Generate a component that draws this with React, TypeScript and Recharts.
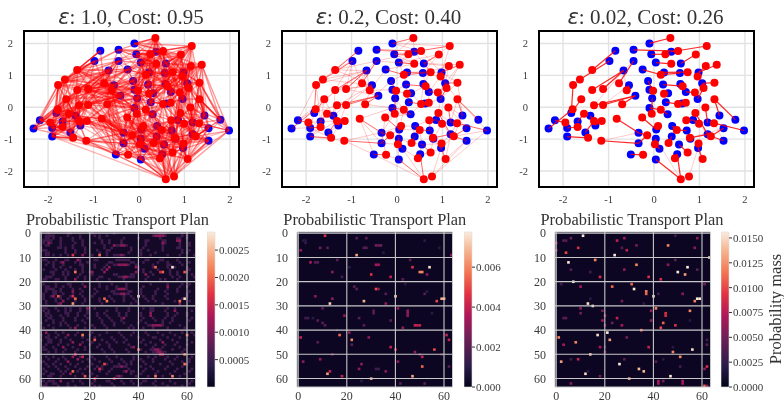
import React from "react";
import {
  CartesianGrid,
  ReferenceArea,
  ReferenceLine,
  Scatter,
  ScatterChart,
  XAxis,
  YAxis,
} from "recharts";

const SERIF = "'Liberation Serif', 'Times New Roman', serif";
const INK = "#3a3a3a";

// source (blue) and target (red) samples
const blueX = [-0.1,-0.85,-0.45,-0.06,0.38,-0.98,-0.45,0.04,0.59,-0.67,-0.25,0.22,0.57,0.98,-0.13,0.2,0.58,1.06,-0.55,-0.1,0.31,0.7,-0.41,-0.04,0.26,0.96,-0.1,0.3,-1.82,-1.4,-2.18,-1.68,-1.29,-1.91,-2.32,-1.51,-1.91,-0.34,0.05,0.4,0.72,0.86,1.18,1.44,1.79,1.53,1.98,1.18,0.8,0.39,0.04,-0.34,0.12,0.55,0.97,1.53,-0.51,0.51,0.04,0.62];
const blueY = [2,1.77,1.8,1.66,1.74,1.45,1.45,1.4,1.37,1.15,1.18,1.09,1.07,1.09,0.82,0.71,0.73,0.75,0.69,0.55,0.44,0.48,0.36,0.28,0.16,0.26,-0.02,-0.22,-0.18,-0.27,-0.41,-0.45,-0.57,-0.65,-0.67,-0.79,-0.92,-0.8,-0.7,-0.59,-0.73,-0.4,-0.48,-0.26,-0.39,-0.66,-0.73,-0.85,-0.99,-0.92,-0.99,-1.13,-1.3,-1.17,-1.28,-1.05,-1.48,-1.47,-1.64,0.12];
const redX = [0.36,1.16,0.25,0.53,0.92,0.38,1.38,1.14,-1.36,-1.63,-1.78,0.15,0.74,0.96,1.33,-0.77,0.63,1.09,-1.36,-1.12,-0.6,-0.02,0.22,0.9,-1.6,1.33,-1.32,-1.12,-0.7,0.53,0.7,-1.79,0.15,1.13,-0.05,-1.54,0.91,-0.82,-0.26,-1.32,-1.15,-1.95,0.71,0.99,1.32,-1.68,0.09,0.5,-0.15,0.79,1.25,-1.45,-1.16,0.02,0.32,0.98,-0.24,0.74,0.46,1.07,0.59,0.77];
const redY = [2.17,1.92,1.66,1.76,1.65,1.36,1.33,1.29,1.17,0.87,0.7,1.02,1.1,0.96,0.77,0.75,0.66,0.6,0.54,0.57,0.53,0.52,0.42,0.46,0.25,0.25,0.06,0.07,0.09,0.1,0.14,-0.06,-0.08,-0.01,-0.2,-0.2,-0.18,-0.36,-0.32,-0.43,-0.43,-0.48,-0.41,-0.52,-0.5,-0.62,-0.59,-0.71,-0.88,-0.96,-0.91,-0.96,-1.05,-1.16,-1.12,-1.14,-1.49,-1.42,-1.6,-1.62,-2.26,-2.17];

// [red, blue] pairs of the sharp matching
const matchLinks = [[0,0],[1,4],[2,3],[3,2],[4,8],[5,7],[8,1],[9,5],[10,28],[31,34],[41,30],[45,33],[51,36],[39,35],[35,31],[39,29],[40,32],[15,6],[18,9],[20,18],[11,10],[12,11],[11,12],[7,13],[6,13],[14,17],[16,16],[16,15],[23,21],[17,25],[22,20],[21,19],[21,14],[27,22],[26,22],[34,23],[32,26],[32,27],[29,24],[30,59],[25,43],[33,42],[28,22],[36,47],[37,37],[38,38],[42,41],[43,41],[25,44],[24,28],[44,46],[50,45],[50,55],[49,47],[47,40],[47,39],[54,49],[49,48],[55,54],[57,53],[53,50],[53,52],[60,57],[60,58],[58,57],[59,54],[56,56],[52,51],[48,37],[48,51],[46,38],[19,9]];
const tailLinks3 = [[19,6],[26,9],[27,18],[61,54],[52,37],[60,50],[43,47],[49,45],[44,55],[20,9]];

// red -> blues, the weak part of each plan
const fan2 = [[0,[3,4]],[1,[0,8,13]],[2,[2,6,7]],[3,[0,7,13]],[4,[7,12]],[5,[3,6,10,11]],[6,[8,17,25]],[7,[8,12,17]],[8,[5,6,9,18]],[9,[1,9,18]],[10,[9,30,31]],[11,[7,14,15]],[12,[4,8,13,16]],[13,[12,17,21]],[14,[13,25,43]],[15,[5,9,18,22]],[16,[12,20]],[17,[13,21]],[18,[5,18,28,29]],[19,[5,6,18,22]],[20,[9,10,19,22]],[21,[15,23]],[22,[15,19,24]],[23,[16,17]],[24,[9,29,30,31]],[25,[17,42,46]],[26,[18,28,29]],[27,[9,18,29,32]],[28,[14,18,26]],[29,[16,20,27]],[30,[21,25]],[31,[28,30,33]],[32,[23,24,38]],[33,[25,43,45]],[34,[26,27,37]],[35,[29,33,36]],[36,[25,41,42]],[37,[26,51,56]],[38,[26,27,51]],[39,[31,32,36]],[40,[29,35]],[41,[31,33,36]],[42,[39,40,48]],[43,[42,47,48]],[44,[42,43,45,47]],[45,[31,34,36]],[46,[37,39,50]],[47,[38,49,53]],[48,[38,50,51]],[49,[40,54]],[50,[43,46,54]],[51,[33,35,32]],[52,[36,37,56]],[53,[38,51,58]],[54,[39,50,53]],[55,[47,48,53]],[56,[37,58]],[57,[48,54,57]],[58,[52,53]],[59,[47,55]],[60,[52,56]],[61,[54,55,46]]];
const fan1 = [[0,[0,2,3,4,7,8,11,12,13,15,16,20]],[1,[0,4,7,8,12,13,17,16,21,25,43]],[2,[0,2,3,6,7,10,11,14,15,18,19,23]],[3,[0,3,4,7,8,11,12,13,16,17,21]],[4,[0,4,7,8,12,13,16,17,21,25,41]],[5,[2,3,6,7,10,11,12,14,15,19,20,24]],[6,[4,8,13,17,25,43,44,46,21,42,12]],[7,[4,8,12,13,16,17,21,25,42,43]],[8,[1,2,5,6,9,18,22,10,28,29]],[9,[1,5,6,9,18,22,28,29,30,31]],[10,[5,9,18,22,28,29,30,31,34,33]],[11,[3,7,10,11,12,14,15,16,19,20,23,24]],[12,[4,8,11,12,13,15,16,17,20,21,25,24]],[13,[8,12,13,16,17,20,21,25,41,42,43]],[14,[8,13,17,21,25,42,43,44,45,46]],[15,[1,2,5,6,9,10,18,19,22,23,26,29]],[16,[7,11,12,13,15,16,17,20,21,24,25,41]],[17,[12,13,16,17,21,25,41,42,43,44]],[18,[5,6,9,18,22,28,29,31,32,30]],[19,[5,6,9,10,18,22,26,29,32,37]],[20,[6,9,10,14,18,19,22,23,26,37,51]],[21,[7,10,11,14,15,19,20,23,24,26,27,38]],[22,[7,11,14,15,16,19,20,23,24,26,27,39]],[23,[12,13,16,17,21,25,41,42,59,40]],[24,[9,18,22,28,29,30,31,32,33,34]],[25,[13,17,25,41,42,43,44,45,46,47]],[26,[9,18,22,28,29,30,31,32,33,35,36]],[27,[9,18,22,26,28,29,31,32,35,37]],[28,[9,14,18,19,22,23,26,32,37,51,56]],[29,[15,16,20,21,24,25,27,39,41,59,40]],[30,[16,17,21,24,25,27,40,41,42,59]],[31,[28,29,30,31,33,34,35,36,32]],[32,[19,20,23,24,26,27,38,39,40,49,59]],[33,[17,25,41,42,43,44,45,47,46]],[34,[19,22,23,26,27,37,38,50,51,39]],[35,[28,29,30,31,32,33,35,36,34]],[36,[21,25,40,41,42,43,47,48,54,45]],[37,[22,26,29,32,37,38,50,51,56,52]],[38,[22,23,26,27,37,38,50,51,52,56]],[39,[28,29,31,32,33,35,36,37,30]],[40,[29,31,32,35,36,37,51,56]],[41,[30,31,33,34,35,36,28]],[42,[27,39,40,41,42,48,49,53,54,47]],[43,[40,41,42,43,45,47,48,54,55]],[44,[41,42,43,44,45,46,47,55,48]],[45,[30,31,33,34,35,36,29]],[46,[27,37,38,39,40,49,50,52,53,51]],[47,[27,38,39,40,41,48,49,53,54,57]],[48,[37,38,49,50,51,52,53,56,58]],[49,[39,40,41,47,48,49,53,54,55,57]],[50,[41,42,43,45,47,48,54,55,46,44]],[51,[31,32,33,34,35,36,29,56]],[52,[32,35,36,37,51,56,58,33]],[53,[37,38,49,50,51,52,53,56,57,58]],[54,[38,39,49,50,52,53,57,58,48]],[55,[40,47,48,49,53,54,55,57,45]],[56,[37,50,51,52,56,58,57]],[57,[48,49,52,53,54,57,58,55]],[58,[49,50,52,53,54,57,58,56]],[59,[47,48,53,54,55,57,45,46]],[60,[50,52,53,54,56,57,58,48,49,51,55]],[61,[48,49,52,53,54,55,57,58,46,47,40]]];
const fan1Far = [[0,[6,10,14,19,21,24,25]],[1,[3,11,15,20,24,42]],[2,[5,9,22,26,12,16]],[3,[2,10,14,15,19,20,25]],[4,[3,11,15,20,24,42]],[5,[2,9,18,22,16,21]],[6,[16,20,24,41,45,47]],[7,[11,15,20,24,41,44]],[8,[14,19,23,26,32,37,31,51]],[9,[2,10,14,19,26,32,35,36]],[10,[1,6,10,19,26,32,35,36,37]],[11,[2,6,9,18,22,26,27,41]],[12,[3,7,14,19,23,27,41,42]],[13,[7,11,15,24,27,40,47]],[15,[14,15,27,28,31,37,51,56]],[16,[3,14,19,23,27,40,42,47]],[18,[10,14,19,26,33,35,36,37,51]],[19,[14,15,23,28,31,35,36,51,56]],[20,[15,24,27,32,29,38,50,52,56]],[21,[2,6,9,18,22,37,39,50,12]],[23,[8,11,15,20,24,27,47,48,54]],[24,[6,10,14,19,26,35,36,37]],[26,[10,14,19,23,37,51,56]],[27,[14,19,23,38,51,52,56,36]],[28,[10,15,20,24,27,38,50,52,58]],[29,[11,19,23,38,47,48,49,53,54]],[32,[14,15,37,41,48,50,52,53,54]],[34,[14,15,24,49,51,52,53,56,58]],[37,[19,23,27,39,49,50,53,58,28,29]],[38,[15,19,24,39,49,53,57,58]],[40,[22,26,37,38,50,52,58,33]],[42,[24,38,43,45,50,52,55,57]],[46,[23,24,26,41,48,53,54,57,58,56]],[47,[24,42,43,50,52,55,58,37]],[48,[26,27,29,32,39,57,54]],[49,[24,27,38,42,43,45,50,52,58]],[52,[26,29,31,38,50,52]],[53,[26,27,39,40,48,54]],[54,[27,37,40,41,51,54,55]],[56,[26,32,36,38,39,53]],[57,[38,39,40,41,42,47,50,52]],[60,[37,38,39,40,41,36,35,47]],[61,[38,39,41,42,43,45,50]],[59,[40,41,42,43,44,49,52]],[58,[37,38,39,40,48,51]],[55,[38,39,41,42,43,44,46]]];

// transport plan cells: [col, row, mass]
const plan3 = [[11,1,.0156],[3,3,.004],[4,3,.004],[6,2,.005],[25,3,.008],[28,2,.007],[58,2,.006],[0,4,.007],[49,1,.003],[46,5,.012],[33,5,.005],[9,6,.009],[27,6,.004],[29,7,.008],[57,6,.006],[4,8,.01],[0,7,.006],[24,9,.0155],[63,10,.0145],[16,11,.012],[5,12,.0155],[49,11,.004],[33,13,.012],[46,13,.006],[54,14,.0156],[6,15,.004],[28,15,.006],[50,16,.0156],[53,17,.013],[14,16,.003],[18,18,.009],[38,18,.009],[43,19,.009],[58,15,.004],[7,20,.0156],[2,21,.003],[31,21,.011],[61,21,.005],[10,22,.007],[23,22,.011],[32,23,.0155],[37,24,.012],[37,25,.011],[40,26,.015],[52,25,.006],[42,25,.003],[59,27,.0156],[58,27,.0156],[57,28,.012],[27,28,.005],[13,29,.0152],[15,30,.015],[36,29,.002],[14,27,.002],[10,31,.006],[41,31,.012],[19,32,.005],[39,32,.006],[55,32,.012],[10,33,.005],[45,33,.009],[45,34,.009],[3,35,.004],[4,35,.004],[20,34,.006],[25,35,.008],[19,36,.007],[39,36,.006],[23,37,.005],[44,37,.011],[55,36,.002],[27,38,.007],[49,38,.009],[20,38,.005],[43,39,.01],[35,40,.011],[21,41,.0156],[17,42,.015],[1,43,.012],[22,44,.013],[8,45,.012],[29,43,.005],[3,46,.007],[18,47,.007],[38,47,.008],[56,48,.015],[20,49,.005],[48,49,.012],[14,50,.014],[51,51,.012],[41,53,.004],[44,52,.002],[9,52,.008],[2,53,.013],[6,52,.003],[28,52,.004],[26,54,.0155],[34,56,.014],[36,57,.014],[62,55,.009],[61,56,.006],[51,55,.003],[12,58,.015],[47,59,.0155],[18,59,.005],[30,60,.013],[6,62,.006],[42,61,.007],[42,62,.007],[44,61,.005],[52,61,.007],[52,62,.007],[61,63,.011],[62,63,.006],[13,57,.002],[48,47,.002],[20,47,.003],[62,44,.003],[62,46,.004]];
const plan2 = [[11,1,.0045],[2,3,.001],[3,3,.001],[3,4,.0012],[24,2,.002],[28,2,.002],[9,6,.0025],[12,6,.002],[1,7,.003],[24,9,.0065],[27,6,.002],[28,6,.002],[32,5,.0025],[33,5,.0025],[34,5,.0025],[52,3,.001],[63,9,.003],[5,12,.0035],[7,12,.002],[8,12,.002],[16,11,.002],[32,13,.0035],[33,13,.0035],[46,11,.002],[47,14,.0045],[54,14,.0075],[50,16,.006],[51,16,.006],[14,16,.003],[30,17,.0045],[53,17,.003],[38,18,.004],[18,18,.0015],[43,19,.002],[23,22,.002],[24,23,.002],[32,23,.005],[33,23,.003],[36,25,.002],[40,26,.0072],[52,25,.002],[53,24,.001],[27,28,.0068],[57,28,.005],[59,27,.0068],[60,27,.0068],[13,29,.0072],[14,27,.003],[36,29,.003],[7,26,.003],[41,31,.003],[45,32,.003],[45,33,.003],[45,34,.003],[31,32,.002],[31,33,.002],[10,31,.002],[19,34,.003],[25,35,.002],[3,35,.0015],[4,35,.0015],[8,36,.002],[10,37,.002],[11,38,.002],[48,38,.004],[49,38,.004],[50,38,.004],[43,39,.003],[38,36,.002],[27,38,.002],[17,42,.0055],[21,41,.003],[22,44,.006],[1,43,.004],[22,46,.002],[29,43,.003],[8,45,.002],[38,47,.004],[40,48,.004],[56,48,.005],[61,42,.004],[62,44,.004],[48,49,.003],[50,50,.002],[51,51,.004],[59,50,.002],[2,53,.003],[9,52,.003],[14,50,.002],[25,56,.003],[26,54,.003],[32,56,.0015],[33,56,.0015],[36,57,.003],[51,55,.0055],[12,58,.0065],[13,57,.004],[18,59,.004],[47,59,.0065],[30,60,.0065],[41,53,.003],[42,62,.002],[52,62,.002],[62,55,.002],[6,35,.001],[35,8,.001],[21,14,.001],[44,21,.001],[16,40,.001],[55,33,.001],[58,6,.001],[26,61,.001]];
const plan1Bright = [[13,9,.0017],[24,9,.002],[47,14,.002],[54,14,.0028],[50,16,.002],[49,16,.0016],[14,16,.0021],[59,16,.0019],[40,26,.0028],[7,26,.0019],[13,26,.0016],[14,27,.002],[26,27,.002],[27,28,.0021],[13,29,.0023],[57,28,.0021],[59,27,.0027],[17,42,.0021],[60,42,.002],[22,44,.0019],[40,48,.002],[59,50,.0021],[14,50,.0016],[17,51,.0015],[59,54,.0021],[26,54,.0018],[24,56,.0016],[13,57,.002],[47,59,.0021],[54,59,.0022],[18,59,.0019],[22,60,.0015],[30,60,.0015],[49,50,.0014],[50,50,.0014]];
const plan1Mid = [[1,[47,48,49,50]],[5,[30,33,34]],[13,[32,33,34,35]],[18,[34,35]],[15,[27]],[14,[28,39]],[16,[21,26,39]],[23,[32,33,34]],[25,[33,34]],[38,[46,47,48,49]],[48,[47,48]],[49,[48,49]],[26,[5]],[28,[9]],[4,[3,50]],[9,[17,33]],[12,[9]],[19,[14]],[22,[18,52]],[24,[13]],[29,[8,57]],[35,[34]],[39,[14]],[42,[11]],[45,[13,50]],[47,[9,38]],[53,[11]],[55,[33]],[58,[12]],[61,[8]],[3,[56,57]],[17,[43]],[11,[15]],[33,[45]],[34,[45]],[52,[15]],[57,[35]],[59,[32]],[32,[55]],[31,[19]],[41,[2]],[46,[16]],[51,[13]]];
const plan1Dim = [[0,[3,11,12,21,30,49,50,51,58]],[1,[2,3,4,5,11,16,22,24,27,46,51,58,60]],[2,[2,3,5,8,13,16,24,34,40,49,56,57,60]],[3,[1,2,3,4,8,13,17,25,28,33,43,44,50,51]],[4,[1,4,8,14,17,22,25,28,33,43,51,57,61]],[5,[2,3,8,13,17,26,31,32,35,43,50,57,61]],[6,[0,7,8,10,13,18,26,29,37,42,50,56,57]],[7,[0,1,2,10,14,18,23,27,28,37,41,44,50,58,61]],[8,[2,3,10,14,18,24,27,36,41,47,58,60]],[9,[2,3,5,8,11,21,27,30,31,32,34,41,45,52,57,63]],[11,[1,2,6,10,11,16,22,23,31,32,33,34,35,36,43,44,49,50,56]],[12,[3,5,8,14,16,19,28,29,37,38,42,48,52,57,61]],[13,[2,5,9,16,17,22,27,30,31,36,39,46,52,53,58]],[14,[5,8,12,17,22,26,40,46,52,55,60]],[15,[1,6,10,14,17,25,40,42,48,53,60,61]],[16,[4,5,9,11,17,20,42,45,53,56,60]],[17,[5,9,11,16,21,30,31,37,38,46,53,56,62]],[18,[2,3,4,10,15,18,24,25,32,33,36,37,38,44,54,57,63]],[19,[1,2,6,7,10,18,23,28,34,43,49,51,56]],[21,[1,6,11,12,17,24,29,35,45,52,58,61]],[22,[2,3,6,9,12,24,27,31,35,42,57,60]],[23,[2,3,4,5,8,13,16,22,27,31,35,41,48,52,56]],[24,[2,5,6,8,17,23,29,30,36,37,41,47,51,56,61]],[25,[1,5,6,9,13,16,22,30,31,32,35,36,41,47,52,60]],[26,[1,4,8,12,17,21,28,34,37,42,46,51,60]],[27,[1,6,8,11,18,24,29,34,38,43,46,52,58]],[28,[2,6,14,18,24,30,34,39,44,47,55,61]],[29,[2,7,17,25,37,40,50]],[31,[1,2,6,10,12,16,22,31,36,42,45,46,52,55]],[32,[1,3,7,10,12,16,19,27,31,36,45,46,51,62]],[33,[2,3,10,11,15,19,23,26,32,35,41,52,56,60]],[34,[2,4,8,11,15,18,23,27,32,35,41,52,55,60]],[35,[3,4,9,14,19,24,28,33,42,46,51,54,62]],[36,[2,5,9,14,17,25,29,33,41,47,50,54,61]],[37,[0,5,8,10,18,25,30,34,40,43,50,53]],[38,[3,8,11,15,21,26,30,37,44,45,50,57]],[39,[1,5,12,18,22,27,36,38,42,46,52,59]],[41,[6,9,15,21,27,32,38,43,48,53,58,62]],[42,[0,3,7,14,20,24,33,37,44,50,55,63]],[43,[2,3,6,10,17,22,29,34,40,46,47,52,57]],[44,[0,3,4,8,12,19,25,30,35,42,49,54,60]],[45,[3,4,8,17,21,27,31,34,41,45,56,62]],[46,[2,7,11,20,24,28,36,43,47,51,55,60]],[47,[1,5,13,18,23,28,37,46,50,57]],[48,[1,2,6,10,15,18,25,29,35,41,45,46,49,54,59]],[49,[3,6,9,14,20,26,30,36,43,46,47,50,51,58]],[51,[2,5,9,16,21,27,31,38,44,47,52,56,62]],[52,[3,7,10,19,22,28,33,38,41,46,51,55,61]],[53,[0,1,6,17,20,24,29,34,37,42,46,53,58,61]],[54,[2,5,8,12,15,21,27,32,35,37,43,49,54,60]],[55,[3,6,10,14,19,23,25,30,31,32,34,35,41,45,52,58]],[56,[1,7,11,16,18,22,25,29,36,43,46,51,56,62]],[57,[2,8,10,15,20,24,28,34,37,38,42,48,55,61]],[58,[1,4,5,9,17,21,27,37,41,47,53,59]],[59,[3,4,8,14,20,23,31,33,39,44,50,57]],[61,[0,1,3,4,5,13,16,22,27,28,33,37,42,43,47,53,60,62]],[62,[2,5,6,11,17,21,29,34,38,41,46,50,55,61]],[63,[1,2,7,11,14,22,24,30,40,47,52,58]]];

const xTicks = [-2, -1, 0, 1, 2];
const yTicks = [-2, -1, 0, 1, 2];
const heatXTicks = [0, 20, 40, 60];
const heatYTicks = [0, 10, 20, 30, 40, 50, 60];
const barTicks1 = [0.0005, 0.001, 0.0015, 0.002, 0.0025];
const barTicks2 = [0, 0.002, 0.004, 0.006];
const barTicks3 = [0, 0.0025, 0.005, 0.0075, 0.01, 0.0125, 0.015];

const rocketStops = ["#03051a", "#2b1c4a", "#701f57", "#ae1759", "#e13342", "#f37651", "#f6b48f", "#faebdd"];
const rocketAt = [0, 0.14, 0.32, 0.46, 0.6, 0.74, 0.88, 1];

function rocket(t: number) {
  const v = Math.min(1, Math.max(0, t));
  let i = 0;
  while (i < rocketAt.length - 2 && v > rocketAt[i + 1]) i++;
  const f = (v - rocketAt[i]) / (rocketAt[i + 1] - rocketAt[i]);
  const ch = (s: string, p: number) => parseInt(s.slice(p, p + 2), 16);
  const mix = (p: number) => Math.round(ch(rocketStops[i], p) * (1 - f) + ch(rocketStops[i + 1], p) * f);
  return `rgb(${mix(1)},${mix(3)},${mix(5)})`;
}

const toCells = (rows: any[], v: number) =>
  rows.flatMap(([row, cols]) => cols.map((col: number) => [col, row, v]));
const plan1 = [...toCells(plan1Dim, 0.00055), ...toCells(plan1Mid, 0.0011), ...plan1Bright];

const bluePoints = blueX.map((x, i) => ({ x, y: blueY[i] }));
const redPoints = redX.map((x, i) => ({ x, y: redY[i] }));
const unfan = (rows: any[]) => rows.flatMap(([r, blues]) => blues.map((b: number) => [r, b]));

function Dot(fill: string) {
  return (p: any) => <circle cx={p.cx} cy={p.cy} r={4} fill={fill} />;
}

function LinkSet({ links, opacity, width }: { links: number[][]; opacity: number; width: number }) {
  return (
    <>
      {links.map(([r, b], i) => (
        <ReferenceLine
          key={i}
          segment={[redPoints[r], bluePoints[b]]}
          stroke="#ff0000"
          strokeOpacity={opacity}
          strokeWidth={width}
          ifOverflow="visible"
          {...{ zIndex: 500 }}
        />
      ))}
    </>
  );
}

const tickStyle = { fontFamily: SERIF, fontSize: 10.5, fill: INK };

function MatchPanel({ left, title, layers }: { left: number; title: string; layers: any[] }) {
  return (
    <>
      <div style={{ position: "absolute", left: left - 24, width: 262, top: 4, textAlign: "center", fontFamily: SERIF, fontSize: 21, lineHeight: "26px", color: "#333", whiteSpace: "pre" }}>
        <span style={{ fontFamily: "'DejaVu Sans'", fontStyle: "italic" }}>ε</span>: {title}
      </div>
      <div style={{ position: "absolute", left: left - 24, top: 25 }}>
        <ScatterChart width={262} height={182} margin={{ top: 6, right: 23, bottom: 0, left: 0 }}>
          <CartesianGrid stroke="#e2e2e2" strokeWidth={1.4} />
          <XAxis type="number" dataKey="x" domain={[-2.53, 2.2]} ticks={xTicks} allowDataOverflow axisLine={false} tickLine={false} tick={tickStyle} height={20} tickMargin={3} interval={0} />
          <YAxis type="number" dataKey="y" domain={[-2.5, 2.39]} ticks={yTicks} allowDataOverflow axisLine={false} tickLine={false} tick={tickStyle} width={24} tickMargin={5} interval={0} />
          <Scatter data={bluePoints} isAnimationActive={false} shape={Dot("#0000ff")} {...{ zIndex: 400 }} />
          {layers.map((l, i) => (
            <LinkSet key={i} links={l.links} opacity={l.opacity} width={l.width} />
          ))}
          <Scatter data={redPoints} isAnimationActive={false} shape={Dot("#ff0000")} {...{ zIndex: 600 }} />
          <ReferenceArea x1={-2.53} x2={2.2} y1={-2.5} y2={2.39} fill="none" stroke="#000" strokeWidth={2} ifOverflow="visible" {...{ zIndex: 700 }} />
        </ScatterChart>
      </div>
    </>
  );
}

function HeatPanel({ left, barLeft, max, cells, barTicks, barFormat, id, base = "#0c0622" }: { left: number; barLeft: number; max: number; cells: number[][]; barTicks: number[]; barFormat: (v: number) => string; id: string; base?: string }) {
  const data = cells.map(([x, y, v]) => ({ x, y, v }));
  const plotH = 155;
  const plotW = 155.5;
  const cellW = plotW / 64;
  const cellH = plotH / 64;
  const cell = (p: any) => (
    <rect x={p.cx - cellW / 2} y={p.cy - cellH / 2} width={cellW + 0.2} height={cellH + 0.2} fill={rocket(p.payload.v / max)} />
  );
  const heatTick = { fontFamily: SERIF, fontSize: 12, fill: INK };
  return (
    <>
      <div style={{ position: "absolute", left: left - 30, width: 215, top: 213, textAlign: "center", fontFamily: SERIF, fontSize: 16.4, lineHeight: "13px", color: "#333", whiteSpace: "pre" }}>
        Probabilistic Transport Plan
      </div>
      <div style={{ position: "absolute", left: left - 30, top: 226 }}>
        <ScatterChart width={190} height={176} margin={{ top: 6, right: 4.5, bottom: 0, left: 0 }}>
          <XAxis type="number" dataKey="x" domain={[-0.5, 63.5]} ticks={heatXTicks} allowDataOverflow axisLine={false} tickLine={false} tick={{ ...heatTick, dy: -1.5 }} height={15} tickMargin={0} interval={0} />
          <YAxis type="number" dataKey="y" domain={[-0.5, 63.5]} reversed ticks={heatYTicks} allowDataOverflow axisLine={false} tickLine={false} tick={heatTick} width={30} tickMargin={3} interval={0} />
          <ReferenceArea x1={-0.5} x2={63.5} y1={-0.5} y2={63.5} fill={base} fillOpacity={1} stroke="none" {...{ zIndex: 100 }} />
          <Scatter data={data} isAnimationActive={false} shape={cell} {...{ zIndex: 200 }} />
          {heatXTicks.map((t) => (
            <ReferenceLine key={`x${t}`} x={t} stroke="#c8c8c8" strokeWidth={1.1} {...{ zIndex: 300 }} />
          ))}
          {heatYTicks.map((t) => (
            <ReferenceLine key={`y${t}`} y={t} stroke="#c8c8c8" strokeWidth={1.1} {...{ zIndex: 300 }} />
          ))}
          <ReferenceArea x1={-0.5} x2={63.5} y1={-0.5} y2={63.5} fill="none" stroke="#c8c8c8" strokeWidth={1} {...{ zIndex: 300 }} />
        </ScatterChart>
      </div>
      <div style={{ position: "absolute", left: barLeft, top: 226 }}>
        <ScatterChart width={60} height={176} margin={{ top: 6, right: 0, bottom: 15, left: 0 }}>
          <XAxis type="number" dataKey="x" domain={[0, 1]} allowDataOverflow hide />
          <YAxis type="number" dataKey="y" orientation="right" domain={[0, max]} ticks={barTicks} allowDataOverflow axisLine={false} tickLine={{ stroke: "#333" }} tickSize={3} tickFormatter={barFormat} tick={{ ...heatTick, fontSize: 11, textAnchor: "start" }} width={52} tickMargin={1} interval={0} />
          <Scatter data={[{ x: 0, y: 0 }, { x: 1, y: max }]} isAnimationActive={false} shape={() => null} />
          <ReferenceArea x1={0} x2={1} y1={0} y2={max} fill={`url(#${id})`} fillOpacity={1} stroke="#ddd" strokeWidth={0.6} ifOverflow="visible" />
        </ScatterChart>
      </div>
    </>
  );
}

export default function App() {
  return (
    <div style={{ position: "absolute", left: 0, top: 0, width: 784, height: 402, background: "#fff", overflow: "hidden", filter: "blur(0.4px)" }}>
      <svg width={0} height={0} style={{ position: "absolute" }}>
        <defs>
          {["bar1", "bar2", "bar3"].map((id) => (
            <linearGradient key={id} id={id} x1="0" y1="1" x2="0" y2="0">
              {rocketStops.map((c, i) => (
                <stop key={i} offset={rocketAt[i]} stopColor={c} />
              ))}
            </linearGradient>
          ))}
        </defs>
      </svg>
      <MatchPanel left={24} title="1.0, Cost: 0.95" layers={[{ links: unfan(fan1Far), opacity: 0.3, width: 1.2 }, { links: unfan(fan1), opacity: 0.42, width: 1.3 }, { links: matchLinks, opacity: 0.55, width: 1.1 }]} />
      <MatchPanel left={281.5} title="0.2, Cost: 0.40" layers={[{ links: unfan(fan2), opacity: 0.22, width: 1 }, { links: matchLinks, opacity: 0.6, width: 1 }]} />
      <MatchPanel left={538.5} title="0.02, Cost: 0.26" layers={[{ links: tailLinks3, opacity: 0.2, width: 1 }, { links: matchLinks, opacity: 0.85, width: 1.2 }]} />
      <HeatPanel id="bar1" base="#140a28" left={40} barLeft={206.5} max={0.00283} cells={plan1} barTicks={barTicks1} barFormat={(v) => v.toFixed(4)} />
      <HeatPanel id="bar2" left={297.3} barLeft={463.5} max={0.00776} cells={plan2} barTicks={barTicks2} barFormat={(v) => v.toFixed(3)} />
      <HeatPanel id="bar3" left={554.5} barLeft={720.7} max={0.0156} cells={plan3} barTicks={barTicks3} barFormat={(v) => v.toFixed(4)} />
      <div style={{ position: "absolute", left: 776, top: 309, fontFamily: SERIF, fontSize: 16.5, color: "#333", whiteSpace: "pre", transform: "translate(-50%, -50%) rotate(-90deg)" }}>
        Probability mass
      </div>
    </div>
  );
}
